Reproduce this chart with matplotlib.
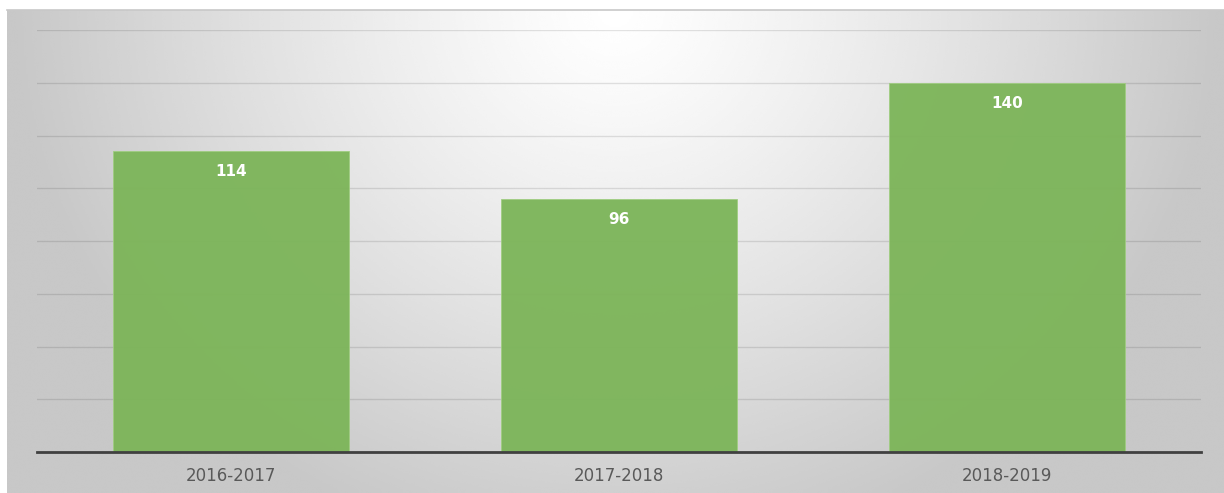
import numpy as np
import matplotlib
matplotlib.use("Agg")
import matplotlib.pyplot as plt

# data
seasons = ["2016-2017", "2017-2018", "2018-2019"]
counts = [114, 96, 140]

plt.rcParams['font.family'] = ['DejaVu Sans']

W, H = 1224, 493
fig = plt.figure(figsize=(W / 100, H / 100), dpi=100)

# background box: white at top centre, fading to grey at sides / bottom
bg = fig.add_axes([7 / W, 0, (W - 7) / W, (H - 10) / H])
yy, xx = np.mgrid[0:1:300j, -1:1:600j]
r = np.sqrt(xx ** 2 + 0.75 * yy ** 2)
shade = np.clip(1.0 - 0.22 * r ** 1.2, 0.785, 1.0)
bg.imshow(shade, cmap="gray", vmin=0, vmax=1, aspect="auto",
          extent=[0, 1, 0, 1], interpolation="bicubic")
bg.set_xticks([])
bg.set_yticks([])
for s in ["left", "right", "bottom"]:
    bg.spines[s].set_visible(False)
bg.spines["top"].set_color("#c8c8c8")
bg.spines["top"].set_linewidth(1.2)

# plot area
ax = fig.add_axes([37 / W, (H - 452) / H, (1201 - 37) / W, (452 - 30) / H])
ax.patch.set_alpha(0)
x = np.arange(len(seasons))
bars = ax.bar(x, counts, width=0.606, color="#7db55a", alpha=0.96,
              edgecolor="#9fcd80", linewidth=0.6, zorder=3)
ax.set_xlim(-0.5, 2.5)
ax.set_ylim(0, 160)
ax.set_yticks(np.arange(0, 161, 20))
ax.yaxis.grid(True, color="black", alpha=0.11, linewidth=1.0, zorder=0)
ax.set_axisbelow(True)
ax.tick_params(axis="y", left=False, labelleft=False)
ax.tick_params(axis="x", bottom=False, pad=7, labelsize=12, labelcolor="#595959")
ax.set_xticks(x)
ax.set_xticklabels(seasons)
for s in ["left", "right", "top"]:
    ax.spines[s].set_visible(False)
ax.spines["bottom"].set_color("#404040")
ax.spines["bottom"].set_linewidth(2)
ax.spines["bottom"].set_zorder(4)

for xi, v in zip(x, counts):
    ax.annotate(str(v), (xi, v), xytext=(0, -19 * 0.72), textcoords="offset points",
                ha="center", va="center_baseline", color="white", fontweight="bold",
                fontsize=11, zorder=5)

fig.savefig("out.png", dpi=100)
